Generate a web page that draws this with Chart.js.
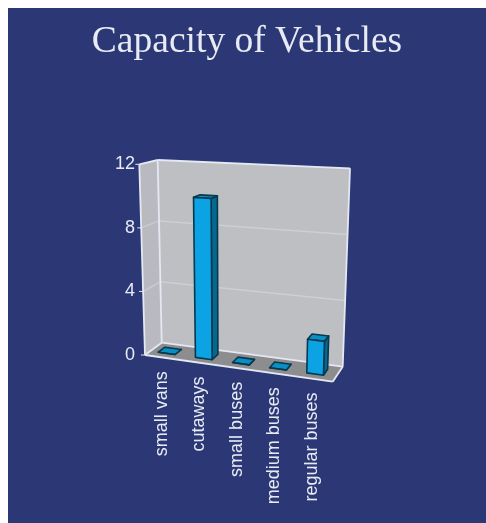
<!DOCTYPE html>
<html>
<head>
<meta charset="utf-8">
<title>Capacity of Vehicles</title>
<script src="https://cdn.jsdelivr.net/npm/chart.js@4"></script>
<style>
    body { margin: 8px 0 0 8px; background: #fff; }
    canvas { display: block; }
</style>
</head>
<body>
<canvas id="capacityChart" width="478" height="515"></canvas>
<script>
const categories = ['small vans', 'cutaways', 'small buses', 'medium buses', 'regular buses'];
const capacity = [0, 10, 0, 0, 2];
const yTicks = [0, 4, 8, 12];

const bgColor = '#2b3875';
const textColor = '#e8ebf4';

// corners of the 3d box, canvas pixels: [front, back] for bottom-left, bottom-right, top-left, top-right
const box = {
    bl: [[137, 347], [153.7, 334.7]],
    br: [[324.7, 373.7], [334.7, 358.7]],
    tl: [[131.3, 156.3], [149.7, 152]],
    tr: [[331, 167], [342, 160.3]]
};

function mix(a, b, t) {
    return [a[0] + (b[0] - a[0]) * t, a[1] + (b[1] - a[1]) * t];
}

// u along categories, v up the value axis, d into the picture, all 0..1
function project(u, v, d) {
    const bottom = mix(mix(box.bl[0], box.br[0], u), mix(box.bl[1], box.br[1], u), d);
    const top = mix(mix(box.tl[0], box.tr[0], u), mix(box.tl[1], box.tr[1], u), d);
    return mix(bottom, top, v);
}

function poly(ctx, pts, fill, stroke, lineWidth) {
    ctx.beginPath();
    pts.forEach((p, i) => i ? ctx.lineTo(p[0], p[1]) : ctx.moveTo(p[0], p[1]));
    ctx.closePath();
    if (fill) { ctx.fillStyle = fill; ctx.fill(); }
    if (stroke) { ctx.strokeStyle = stroke; ctx.lineWidth = lineWidth; ctx.lineJoin = 'round'; ctx.stroke(); }
}

function line(ctx, a, b, color, lineWidth) {
    ctx.beginPath();
    ctx.moveTo(a[0], a[1]);
    ctx.lineTo(b[0], b[1]);
    ctx.strokeStyle = color;
    ctx.lineWidth = lineWidth;
    ctx.stroke();
}

// bars go through the box projection instead of the flat rectangle
const barDepth = [0.32, 0.72];
const barShift = -0.012;
Chart.BarElement.prototype.draw = function (ctx) {
    const area = Chart.getChart(ctx.canvas).chartArea;
    const { x, y, base, width } = this.getProps(['x', 'y', 'base', 'width'], false);
    const u0 = (x - width / 2 - area.left) / (area.right - area.left) + barShift;
    const u1 = (x + width / 2 - area.left) / (area.right - area.left) + barShift;
    const v0 = (area.bottom - base) / (area.bottom - area.top);
    const v1 = (area.bottom - y) / (area.bottom - area.top);
    const [d0, d1] = barDepth;
    const outline = '#06384e';

    ctx.save();
    poly(ctx, [project(u1, v0, d0), project(u1, v0, d1), project(u1, v1, d1), project(u1, v1, d0)], '#07688f', outline, 1.6);
    poly(ctx, [project(u0, v1, d0), project(u1, v1, d0), project(u1, v1, d1), project(u0, v1, d1)], '#0a8fc4', outline, 1.6);
    poly(ctx, [project(u0, v0, d0), project(u1, v0, d0), project(u1, v1, d0), project(u0, v1, d0)], this.options.backgroundColor, outline, 1.6);
    ctx.restore();
};

const wallsPlugin = {
    id: 'walls',
    beforeDatasetsDraw(chart) {
        const ctx = chart.ctx;
        const yScale = chart.scales.y;
        const edge = '#e4e8f2';
        ctx.save();
        // side wall, back wall, floor
        poly(ctx, [project(0, 0, 0), project(0, 0, 1), project(0, 1, 1), project(0, 1, 0)], '#b9bac0');
        poly(ctx, [project(0, 0, 1), project(1, 0, 1), project(1, 1, 1), project(0, 1, 1)], '#bebfc3');
        poly(ctx, [project(0, 0, 0), project(1, 0, 0), project(1, 0, 1), project(0, 0, 1)], '#8d8d90');

        yTicks.forEach(t => {
            const v = (yScale.bottom - yScale.getPixelForValue(t)) / (yScale.bottom - yScale.top);
            if (t > 0 && t < yTicks[yTicks.length - 1]) {
                line(ctx, project(0, v, 0), project(0, v, 1), 'rgba(255,255,255,0.25)', 1.5);
                line(ctx, project(0, v, 1), project(1, v, 1), 'rgba(255,255,255,0.25)', 1.5);
            }
            const p = project(0, v, 0);
            line(ctx, [p[0] - 4, p[1]], p, edge, 1);
        });

        line(ctx, project(0, 0, 1), project(0, 1, 1), edge, 1.8);
        line(ctx, project(0, 1, 1), project(1, 1, 1), edge, 1.8);
        line(ctx, project(1, 1, 1), project(1, 0, 1), edge, 1.8);
        line(ctx, project(1, 0, 1), project(0, 0, 1), edge, 1.8);
        line(ctx, project(0, 0, 0), project(0, 1, 0), edge, 1.8);
        line(ctx, project(0, 1, 0), project(0, 1, 1), edge, 1.8);
        line(ctx, project(0, 0, 0), project(0, 0, 1), edge, 1.8);
        line(ctx, project(0, 0, 0), project(1, 0, 0), edge, 1.8);
        line(ctx, project(1, 0, 0), project(1, 0, 1), edge, 1.8);
        ctx.restore();
    },
    afterDraw(chart) {
        // category labels follow the sloping front edge of the floor
        const ctx = chart.ctx;
        const xScale = chart.scales.x;
        ctx.save();
        ctx.font = '18px "Liberation Sans"';
        ctx.fillStyle = textColor;
        ctx.textAlign = 'right';
        ctx.textBaseline = 'middle';
        categories.forEach((name, i) => {
            const u = (xScale.getPixelForTick(i) - xScale.left) / (xScale.right - xScale.left);
            const p = project(u, 0, 0);
            ctx.save();
            ctx.translate(p[0] - 2, p[1] + 13.5);
            ctx.rotate(-Math.PI / 2);
            ctx.fillText(name, 0, 0);
            ctx.restore();
        });
        ctx.restore();
    }
};

new Chart(document.getElementById('capacityChart'), {
    type: 'bar',
    data: {
        labels: categories,
        datasets: [{
            label: 'Capacity',
            data: capacity,
            backgroundColor: '#0ba3e4',
            barPercentage: 0.45,
            categoryPercentage: 1,
            clip: false
        }]
    },
    plugins: [{
        id: 'background',
        beforeDraw(chart) {
            chart.ctx.save();
            chart.ctx.fillStyle = bgColor;
            chart.ctx.fillRect(0, 0, chart.width, chart.height);
            chart.ctx.restore();
        }
    }, wallsPlugin],
    options: {
        responsive: false,
        animation: false,
        plugins: {
            legend: { display: false },
            tooltip: { enabled: false },
            title: {
                display: true,
                text: 'Capacity of Vehicles',
                color: textColor,
                font: { family: '"Liberation Serif"', size: 37.5, weight: 'normal' },
                padding: { top: 12, bottom: 99 }
            }
        },
        scales: {
            x: {
                grid: { display: false },
                border: { display: false },
                ticks: { display: false },
                afterFit(s) { s.height = 168; }
            },
            y: {
                min: 0,
                max: 12,
                afterBuildTicks(s) { s.ticks = yTicks.map(v => ({ value: v })); },
                grid: { display: false, drawTicks: false },
                border: { display: false },
                ticks: {
                    color: textColor,
                    font: { family: '"Liberation Sans"', size: 18 },
                    padding: 4
                },
                afterFit(s) { s.width = 131; }
            }
        }
    }
});
</script>
</body>
</html>
